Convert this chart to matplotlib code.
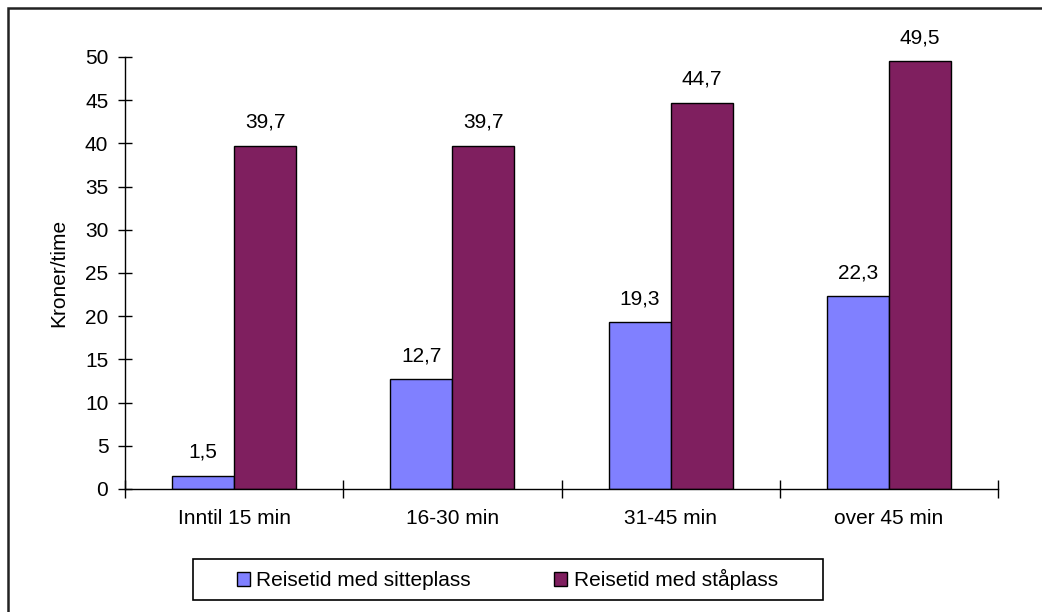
import matplotlib
matplotlib.use("Agg")
import matplotlib.pyplot as plt
from matplotlib.patches import Rectangle
import numpy as np

categories = ["Inntil 15 min", "16-30 min", "31-45 min", "over 45 min"]
series_names = ["Reisetid med sitteplass", "Reisetid med ståplass"]
sitteplass = [1.5, 12.7, 19.3, 22.3]
staplass = [39.7, 39.7, 44.7, 49.5]
colors = ["#8080FF", "#7F1F5F"]

plt.rcParams['font.family'] = ['Liberation Sans', 'DejaVu Sans']
FS = 15

fig = plt.figure(figsize=(10.42, 6.12), dpi=100)
ax = fig.add_axes([125/1042, 1-489/612, 873/1042, 432/612])

x = np.arange(len(categories))
w = 0.284
b1 = ax.bar(x - w/2, sitteplass, w, color=colors[0], edgecolor="black", linewidth=1, label=series_names[0])
b2 = ax.bar(x + w/2, staplass, w, color=colors[1], edgecolor="black", linewidth=1, label=series_names[1])

for bars, vals in ((b1, sitteplass), (b2, staplass)):
    for r, v in zip(bars, vals):
        ax.annotate(f"{v:.1f}".replace(".", ","), (r.get_x() + r.get_width()/2, v),
                    xytext=(0, 13), textcoords="offset points", ha="center", va="baseline", fontsize=FS)

ax.set_xlim(-0.5, len(categories) - 0.5)
ax.set_ylim(0, 50)
ax.set_yticks(np.arange(0, 51, 5))
ax.tick_params(axis="y", direction="inout", length=10, width=1, labelsize=FS, pad=7)
ax.set_xticks(np.arange(-0.5, len(categories), 1.0))
ax.set_xticklabels([])
ax.tick_params(axis="x", which="major", direction="inout", length=13, width=1)
ax.set_xticks(x, minor=True)
ax.set_xticklabels(categories, minor=True)
ax.tick_params(axis="x", which="minor", length=0, labelsize=FS, pad=14.5)

for s in ("top", "right"):
    ax.spines[s].set_visible(False)
for s in ("left", "bottom"):
    ax.spines[s].set_linewidth(1)
ax.set_ylabel("Kroner/time", fontsize=FS, labelpad=12)

leg = fig.legend(handles=[b1, b2], labels=series_names, loc="center left",
                 bbox_to_anchor=(237/1042, 1-579.5/612),
                 ncol=2, fontsize=FS, frameon=False, borderpad=0, borderaxespad=0,
                 handlelength=0.63, handleheight=0.63, columnspacing=4.0, handletextpad=0.3)
fig.patches.append(Rectangle((193/1042, 1-600/612), (823-193)/1042, 41/612, transform=fig.transFigure,
                             fill=False, edgecolor="black", linewidth=1.2, zorder=4))

fig.patches.append(Rectangle((8/1042, -0.1), 1.2, 1 - 8/612 + 0.1, transform=fig.transFigure,
                             fill=False, edgecolor="#222222", linewidth=1.8, zorder=0))

fig.savefig("out.png", dpi=100)
